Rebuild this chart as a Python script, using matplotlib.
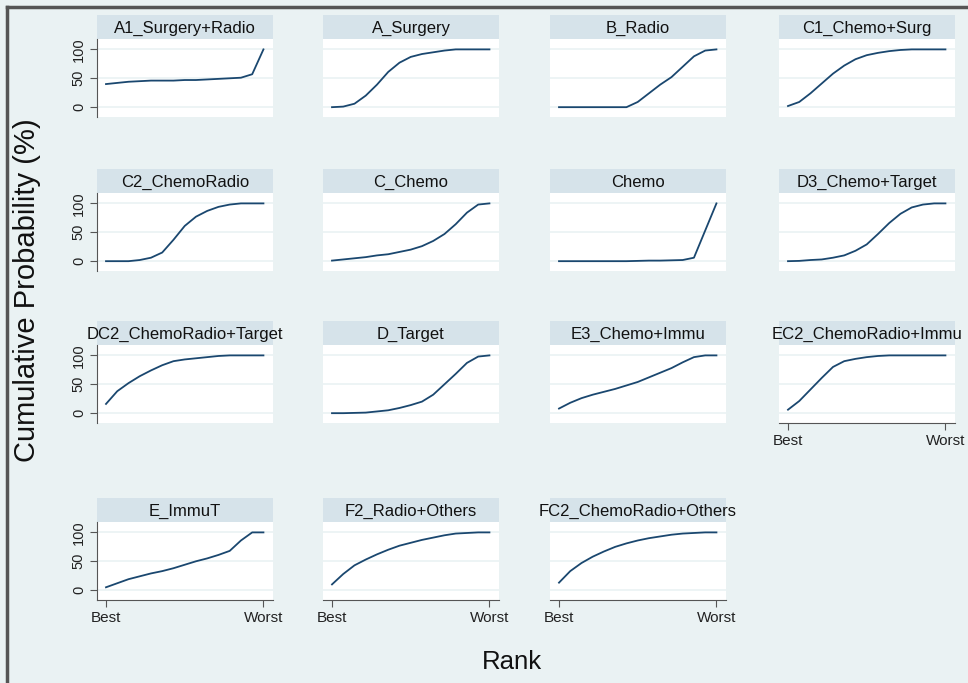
import matplotlib
matplotlib.use("Agg")
import matplotlib.pyplot as plt
from matplotlib.lines import Line2D

plt.rcParams['font.family'] = ['Liberation Sans', 'DejaVu Sans']

ranks = list(range(1, 16))
tick_labels = ["Best", "Worst"]

titles = [
    "A1_Surgery+Radio", "A_Surgery", "B_Radio", "C1_Chemo+Surg",
    "C2_ChemoRadio", "C_Chemo", "Chemo", "D3_Chemo+Target",
    "DC2_ChemoRadio+Target", "D_Target", "E3_Chemo+Immu", "EC2_ChemoRadio+Immu",
    "E_ImmuT", "F2_Radio+Others", "FC2_ChemoRadio+Others",
]

a1_surgery_radio = [40, 42, 44, 45, 46, 46, 46, 47, 47, 48, 49, 50, 51, 57, 100]
a_surgery = [0, 1, 6, 20, 39, 61, 77, 87, 92, 95, 98, 100, 100, 100, 100]
b_radio = [0, 0, 0, 0, 0, 0, 0, 9, 24, 39, 52, 70, 88, 98, 100]
c1_chemo_surg = [2, 9, 24, 41, 58, 72, 83, 90, 94, 97, 99, 100, 100, 100, 100]
c2_chemoradio = [0, 0, 0, 2, 6, 15, 37, 61, 77, 87, 94, 98, 100, 100, 100]
c_chemo = [1, 3, 5, 7, 10, 12, 16, 20, 26, 35, 47, 64, 84, 98, 100]
chemo = [0, 0, 0, 0, 0, 0, 0, 0.5, 1, 1, 1.5, 2, 6, 53, 100]
d3_chemo_target = [0, 0.5, 2, 3, 6, 10, 18, 29, 47, 66, 82, 93, 98, 100, 100]
dc2_chemoradio_target = [16, 38, 52, 64, 74, 83, 90, 93, 95, 97, 99, 100, 100, 100, 100]
d_target = [0, 0, 0.5, 1, 3, 5, 9, 14, 20, 32, 50, 68, 87, 98, 100]
e3_chemo_immu = [8, 18, 26, 32, 37, 42, 48, 54, 62, 70, 78, 88, 97, 100, 100]
ec2_chemoradio_immu = [6, 21, 41, 61, 80, 90, 94, 97, 99, 100, 100, 100, 100, 100, 100]
e_immut = [5, 12, 19, 24, 29, 33, 38, 44, 50, 55, 61, 68, 86, 100, 100]
f2_radio_others = [10, 28, 43, 53, 62, 70, 77, 82, 87, 91, 95, 98, 99, 100, 100]
fc2_chemoradio_others = [13, 33, 47, 58, 67, 75, 81, 86, 90, 93, 96, 98, 99, 100, 100]

series = [
    a1_surgery_radio, a_surgery, b_radio, c1_chemo_surg,
    c2_chemoradio, c_chemo, chemo, d3_chemo_target,
    dc2_chemoradio_target, d_target, e3_chemo_immu, ec2_chemoradio_immu,
    e_immut, f2_radio_others, fc2_chemoradio_others,
]

W, H = 968, 683
BG = '#eaf2f3'
STRIP = '#d6e3ea'
LINE = '#1a476f'
AXC = '#555555'

fig = plt.figure(figsize=(W / 100, H / 100), dpi=100, facecolor=BG)

def rect(x0, y0, x1, y1):
    return [x0 / W, 1 - y1 / H, (x1 - x0) / W, (y1 - y0) / H]

col_x = [97, 323, 550, 779]
pw = 176
row_top = [15, 169, 321, 498]
sh = 24
ph = 78

for i, (title, vals) in enumerate(zip(titles, series)):
    r, c = divmod(i, 4)
    x0 = col_x[c]
    y0 = row_top[r]
    # strip
    sax = fig.add_axes(rect(x0, y0, x0 + pw, y0 + sh))
    sax.set_facecolor(STRIP)
    sax.set_xticks([]); sax.set_yticks([])
    for s in sax.spines.values():
        s.set_visible(False)
    sax.text(0.5, 0.45, title, ha='center', va='center', fontsize=12,
             color='#111111', transform=sax.transAxes, clip_on=False)
    # plot
    ax = fig.add_axes(rect(x0, y0 + sh, x0 + pw, y0 + sh + ph))
    ax.set_facecolor('white')
    ax.plot(ranks, vals, color=LINE, lw=1.3)
    ax.set_xlim(0.2, 15.85)
    ax.set_ylim(-17, 118)
    for yv in (0, 50, 100):
        ax.axhline(yv, color=BG, lw=1.2, zorder=0)
    for s in ax.spines.values():
        s.set_visible(False)
    show_y = (c == 0)
    show_x = (r == 3) or (r == 2 and c == 3)
    if show_y:
        ax.spines['left'].set_visible(True)
        ax.spines['left'].set_color(AXC)
        ax.set_yticks([0, 50, 100])
        ax.set_yticklabels(['0', '50', '100'], rotation=90, va='center',
                           fontsize=10.5, color='#222222')
        ax.tick_params(axis='y', length=5, color=AXC, pad=3)
    else:
        ax.set_yticks([])
    if show_x:
        ax.spines['bottom'].set_visible(True)
        ax.spines['bottom'].set_color(AXC)
        ax.set_xticks([1, 15])
        ax.set_xticklabels(tick_labels, fontsize=11, color='#222222')
        ax.tick_params(axis='x', length=5, color=AXC, pad=3)
    else:
        ax.set_xticks([])

fig.text(27 / W, 1 - 290 / H, 'Cumulative Probability (%)', rotation=90,
         ha='center', va='center', fontsize=21, color='#111111')
fig.text(512 / W, 1 - 662 / H, 'Rank', ha='center', va='center',
         fontsize=18.5, color='#111111')

# outer frame lines (top and left)
fig.add_artist(Line2D([7 / W, 1], [1 - 7 / H, 1 - 7 / H], color='#555555', lw=2.5,
                      transform=fig.transFigure))
fig.add_artist(Line2D([7 / W, 7 / W], [0, 1 - 7 / H], color='#555555', lw=2.5,
                      transform=fig.transFigure))

fig.savefig('out.png', dpi=100, facecolor=BG)
